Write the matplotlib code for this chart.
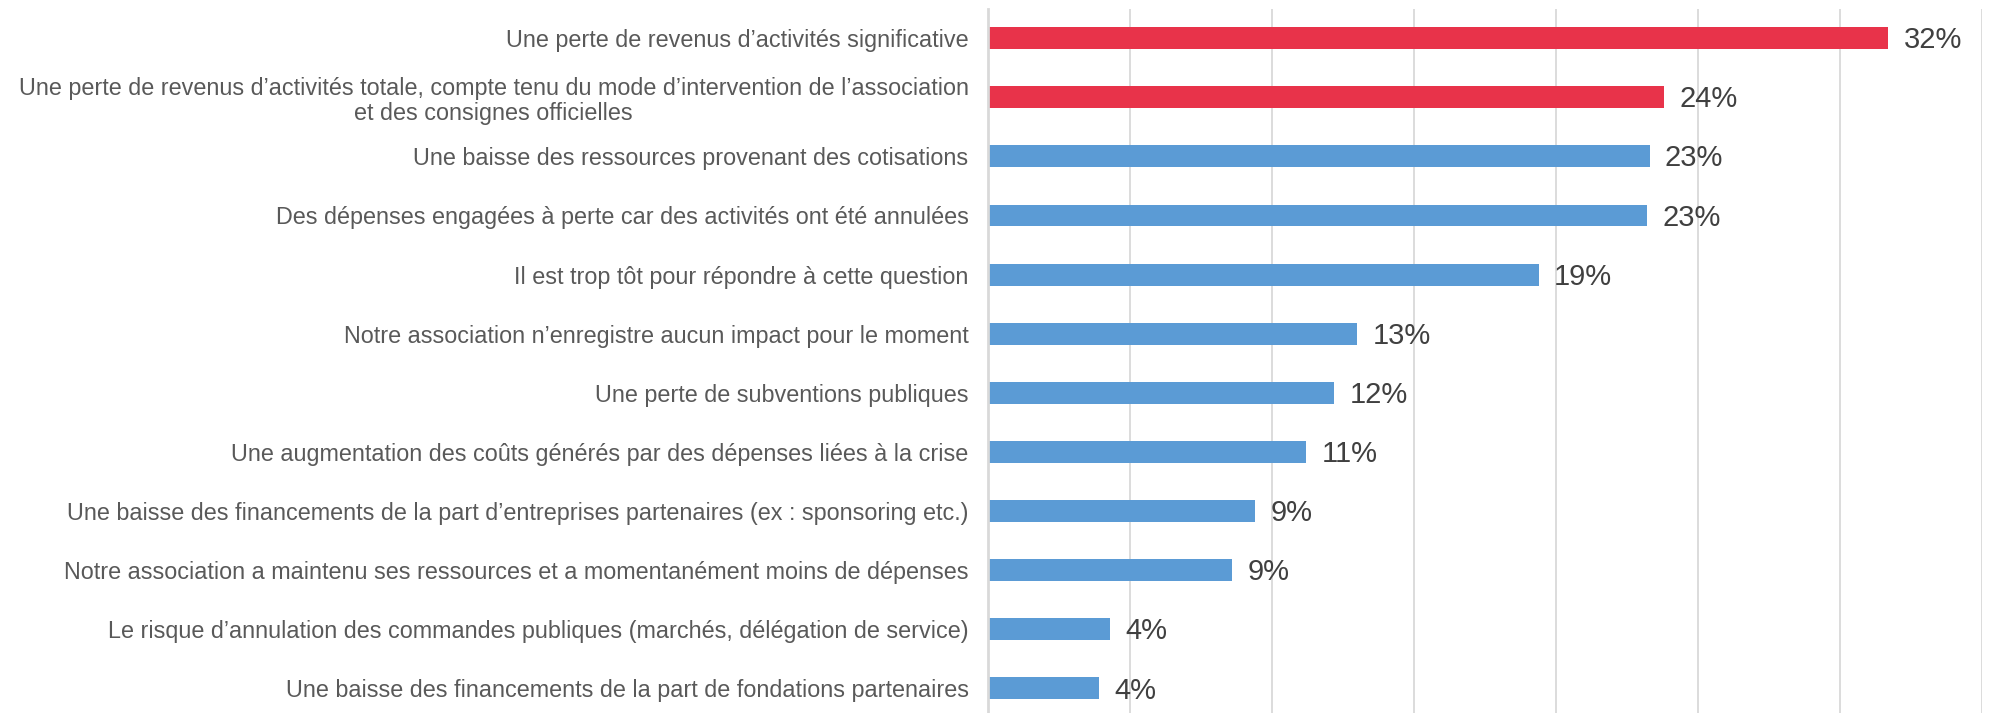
import matplotlib
matplotlib.use("Agg")
import matplotlib.pyplot as plt

# libellés des réponses (de haut en bas)
categories = [
    "Une perte de revenus d\u2019activités significative",
    "Une perte de revenus d\u2019activités totale, compte tenu du mode d\u2019intervention de l\u2019association\net des consignes officielles",
    "Une baisse des ressources provenant des cotisations",
    "Des dépenses engagées à perte car des activités ont été annulées",
    "Il est trop tôt pour répondre à cette question",
    "Notre association n\u2019enregistre aucun impact pour le moment",
    "Une perte de subventions publiques",
    "Une augmentation des coûts générés par des dépenses liées à la crise",
    "Une baisse des financements de la part d\u2019entreprises partenaires (ex : sponsoring etc.)",
    "Notre association a maintenu ses ressources et a momentanément moins de dépenses",
    "Le risque d\u2019annulation des commandes publiques (marchés, délégation de service)",
    "Une baisse des financements de la part de fondations partenaires",
]
valeurs = [31.7, 23.8, 23.3, 23.2, 19.4, 13.0, 12.2, 11.2, 9.4, 8.6, 4.3, 3.9]
etiquettes = ["32%", "24%", "23%", "23%", "19%", "13%", "12%", "11%", "9%", "9%", "4%", "4%"]
mis_en_avant = [True, True] + [False] * 10

ROUGE = "#E8334A"
BLEU = "#5B9BD5"

plt.rcParams['font.family'] = ['Liberation Sans', 'DejaVu Sans']

fig = plt.figure(figsize=(19.91, 7.13), dpi=100)
ax = fig.add_axes([988 / 1991, -0.007, (1982 - 988) / 1991, 0.995])

y = list(range(len(categories)))
couleurs = [ROUGE if m else BLEU for m in mis_en_avant]
ax.barh(y, valeurs, height=0.37, color=couleurs, zorder=3)

for yi, v, txt in zip(y, valeurs, etiquettes):
    ax.annotate(txt, (v, yi), xytext=(11, -1.5), textcoords="offset points",
                va="center", ha="left", fontsize=21, color="#404040")

ax.set_yticks(y)
ax.set_yticklabels(categories, fontsize=16.8, color="#595959",
                   multialignment="center", linespacing=1.1)
ax.tick_params(axis="y", length=0, pad=14)
ax.set_ylim(len(categories) - 0.5, -0.5)

ax.set_xlim(0, 35)
ax.set_xticks(range(0, 36, 5))
ax.tick_params(axis="x", length=0, labelbottom=False)
ax.grid(axis="x", color="#D9D9D9", linewidth=1.3, zorder=0)
ax.grid(axis="y", visible=False)

for s in ["top", "right", "bottom"]:
    ax.spines[s].set_visible(False)
ax.spines["left"].set_color("#D9D9D9")
ax.spines["left"].set_linewidth(2)
ax.spines["left"].set_zorder(4)

fig.savefig("out.png", dpi=100)
